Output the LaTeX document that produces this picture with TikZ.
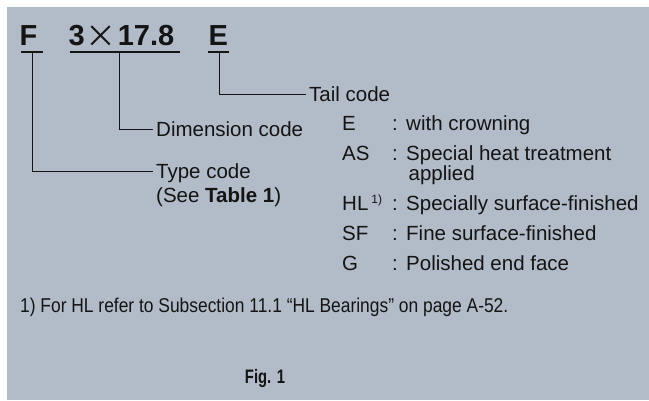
\documentclass[tikz,border=0pt]{standalone}
\usepackage{fontspec}
\setmainfont{Liberation Sans}
\newfontfamily\narrowfont[FakeStretch=0.87]{Liberation Sans}
\newfontfamily\capfont[FakeStretch=0.76]{Liberation Sans}
\newfontfamily\cjkfont{Noto Sans CJK JP}
\usepackage{graphicx}
\usepackage{tikz}
\usetikzlibrary{positioning, calc}
\definecolor{panelgrey}{RGB}{178,188,200}
\definecolor{inkblack}{RGB}{20,20,20}
\tikzset{
    codechar/.style={font=\bfseries\fontsize{29}{29}\selectfont, anchor=base west,
                     inner sep=0pt, text=inkblack},
    lbl/.style={font=\fontsize{20.5}{24}\selectfont, anchor=west, inner xsep=3pt,
                inner ysep=0pt, text height=14.5pt, text depth=0pt, text=inkblack},
    keytxt/.style={font=\fontsize{20.5}{24}\selectfont, anchor=base west,
                   inner sep=0pt, text=inkblack},
    leader/.style={draw=inkblack, line width=1pt},
    underbar/.style={draw=inkblack, line width=1.3pt},
    footlbl/.style={font=\narrowfont\fontsize{20}{24}\selectfont, anchor=base west,
                    inner sep=0pt, text=inkblack},
}

\begin{document}
\begin{tikzpicture}[x=1pt, y=-1pt]
    \useasboundingbox (0,0) rectangle (649,400);
    \fill[panelgrey] (7,7) rectangle (649,400);

    % code letters
    \node[codechar] (fch) at (19.5,45) {F};
    \node[codechar] (dimch) at (68.5,45) {3\hspace{1pt}\raisebox{-2pt}{\cjkfont\mdseries\fontsize{31}{31}\selectfont ×}\hspace{1pt}17.8};
    \node[codechar] (ech) at (208.5,45) {E};
    \draw[underbar] (21,52) -- (43,52);
    \draw[underbar] (70,52) -- (180,52);
    \draw[underbar] (208,52) -- (229,52);

    % labels
    \node[lbl] (taillbl) at (306,94.5) {Tail code};
    \node[lbl] (dimlbl) at (153,129.3) {Dimension code};
    \node[lbl] (typelbl) at (153,171.7) {Type code};
    \node[lbl, below=8.2pt of typelbl.south west, anchor=north west] (seetbl) {(See \textbf{Table 1})};

    \coordinate (ftap) at (32,52);
    \coordinate (dimtap) at (119,52);
    \coordinate (etap) at (219,52);
    \draw[leader] (ftap) |- (typelbl.west);
    \draw[leader] (dimtap) |- (dimlbl.west);
    \draw[leader] (etap) |- (taillbl.west);

    % tail code list
    \node[keytxt] (ekey) at (342,130.7) {E};
    \node[keytxt] (askey) at (342,160.7) {AS};
    \node[keytxt] (hlkey) at (342,210) {HL\hspace{3pt}\raisebox{7pt}{\fontsize{12}{12}\selectfont 1)}};
    \node[keytxt] (sfkey) at (342,240) {SF};
    \node[keytxt] (gkey) at (342,270) {G};

    \node[keytxt] (ecol) at (392,130.7) {:};
    \node[keytxt] (ascol) at (392,160.7) {:};
    \node[keytxt] (hlcol) at (392,210) {:};
    \node[keytxt] (sfcol) at (392,240) {:};
    \node[keytxt] (gcol) at (392,270) {:};

    \node[keytxt] (eval) at (406,130.7) {with crowning};
    \node[keytxt] (asval) at (406,160.7) {Special heat treatment};
    \node[keytxt] (asval2) at (408.5,180.2) {applied};
    \node[keytxt] (hlval) at (406,210) {Specially surface-finished};
    \node[keytxt] (sfval) at (406,240) {Fine surface-finished};
    \node[keytxt] (gval) at (406,270) {Polished end face};

    % footnote and caption
    \node[footlbl] (fnote) at (20,312) {1) For HL refer to Subsection 11.1 “HL Bearings” on page A-52.};
    \node[footlbl, font=\capfont\bfseries\fontsize{19.5}{24}\selectfont, anchor=base] (figcap) at (265,383) {Fig. 1};
\end{tikzpicture}
\end{document}
